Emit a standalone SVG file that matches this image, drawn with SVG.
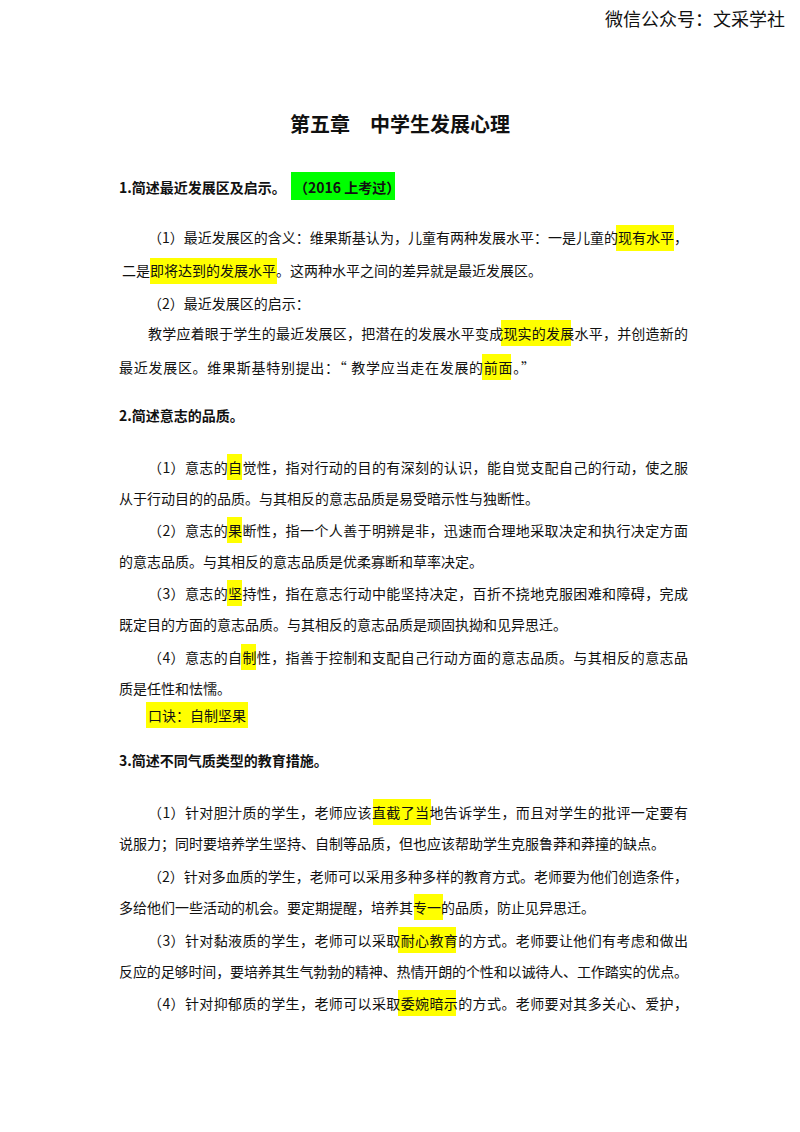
<svg xmlns="http://www.w3.org/2000/svg" width="800" height="1132" viewBox="0 0 800 1132">
<style>
text{font-family:"Noto Sans CJK SC","Liberation Serif",sans-serif;font-size:14px;fill:#111}
.b{font-weight:bold}
.y{fill:#ffff00}
</style>
<rect width="800" height="1132" fill="#fff"/>
<text x="785" y="26" text-anchor="end" style="font-size:18px">微信公众号：文采学社</text>
<text x="400" y="132" text-anchor="middle" class="b" style="font-size:20px">第五章　中学生发展心理</text>
<rect x="291" y="172" width="104" height="28" fill="#00ff00"/>
<text x="119" y="193" class="b">1.简述最近发展区及启示。<tspan x="294">（2016 上考过）</tspan></text>
<g id="s1">
<rect class="y" x="616" y="225" width="58" height="26"/>
<rect class="y" x="150" y="258" width="127" height="26"/>
<rect class="y" x="501" y="320" width="70" height="26"/>
<rect class="y" x="482" y="354" width="29" height="26"/>
<text x="148" y="243" textLength="540">（1）最近发展区的含义：维果斯基认为，儿童有两种发展水平：一是儿童的现有水平，</text>
<text x="122" y="276">二是即将达到的发展水平。这两种水平之间的差异就是最近发展区。</text>
<text x="148" y="309">（2）最近发展区的启示：</text>
<text x="148" y="339" textLength="540">教学应着眼于学生的最近发展区，把潜在的发展水平变成现实的发展水平，并创造新的</text>
<text x="119" y="373" textLength="416">最近发展区。维果斯基特别提出：“ 教学应当走在发展的前面。”</text>
</g>
<text x="119" y="421" class="b">2.简述意志的品质。</text>
<g id="s2">
<rect class="y" x="227" y="454" width="15" height="26"/>
<rect class="y" x="227" y="517" width="15" height="26"/>
<rect class="y" x="227" y="580" width="15" height="26"/>
<rect class="y" x="241" y="644" width="15" height="26"/>
<rect class="y" x="146" y="702" width="102" height="26"/>
<text x="148" y="473" textLength="540">（1）意志的自觉性，指对行动的目的有深刻的认识，能自觉支配自己的行动，使之服</text>
<text x="119" y="504">从于行动目的的品质。与其相反的意志品质是易受暗示性与独断性。</text>
<text x="148" y="536" textLength="540">（2）意志的果断性，指一个人善于明辨是非，迅速而合理地采取决定和执行决定方面</text>
<text x="119" y="567">的意志品质。与其相反的意志品质是优柔寡断和草率决定。</text>
<text x="148" y="599" textLength="540">（3）意志的坚持性，指在意志行动中能坚持决定，百折不挠地克服困难和障碍，完成</text>
<text x="119" y="630">既定目的方面的意志品质。与其相反的意志品质是顽固执拗和见异思迁。</text>
<text x="148" y="663" textLength="540">（4）意志的自制性，指善于控制和支配自己行动方面的意志品质。与其相反的意志品</text>
<text x="119" y="694">质是任性和怯懦。</text>
<text x="148" y="721">口诀：自制坚果</text>
</g>
<text x="119" y="766" class="b">3.简述不同气质类型的教育措施。</text>
<g id="s3">
<rect class="y" x="373" y="799" width="58" height="26"/>
<rect class="y" x="414" y="894" width="29" height="26"/>
<rect class="y" x="398" y="927" width="58" height="26"/>
<rect class="y" x="398" y="990" width="58" height="26"/>
<text x="148" y="818" textLength="540">（1）针对胆汁质的学生，老师应该直截了当地告诉学生，而且对学生的批评一定要有</text>
<text x="119" y="849">说服力；同时要培养学生坚持、自制等品质，但也应该帮助学生克服鲁莽和莽撞的缺点。</text>
<text x="148" y="882" textLength="540">（2）针对多血质的学生，老师可以采用多种多样的教育方式。老师要为他们创造条件，</text>
<text x="119" y="913">多给他们一些活动的机会。要定期提醒，培养其专一的品质，防止见异思迁。</text>
<text x="148" y="946" textLength="540">（3）针对黏液质的学生，老师可以采取耐心教育的方式。老师要让他们有考虑和做出</text>
<text x="119" y="977" textLength="569">反应的足够时间，要培养其生气勃勃的精神、热情开朗的个性和以诚待人、工作踏实的优点。</text>
<text x="148" y="1009" textLength="540">（4）针对抑郁质的学生，老师可以采取委婉暗示的方式。老师要对其多关心、爱护，</text>
</g>
</svg>
